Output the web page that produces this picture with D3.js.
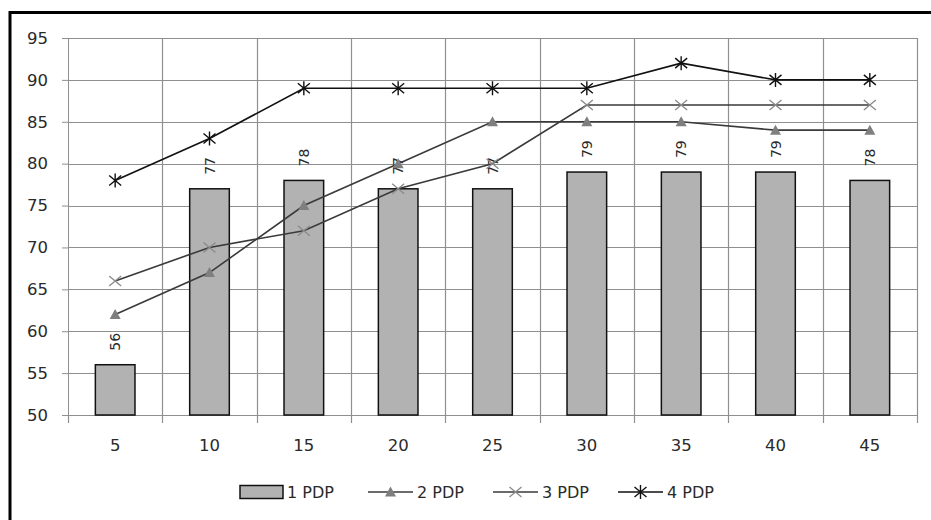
<!DOCTYPE html>
<html>
<head>
<meta charset="utf-8">
<script src="https://cdn.jsdelivr.net/npm/d3@7"></script>
<style>
  html, body { margin: 0; padding: 0; background: #fff; }
  svg { display: block; }
  text { font-family: "DejaVu Sans", Verdana, sans-serif; fill: #2a2a2a; }
</style>
</head>
<body>
<svg id="chart" width="931" height="520"></svg>
<script>
// Categories along the horizontal axis
const categories = ["5", "10", "15", "20", "25", "30", "35", "40", "45"];
// Bar series
const pdp1 = [56, 77, 78, 77, 77, 79, 79, 79, 78];
// Line series
const pdp2 = [62, 67, 75, 80, 85, 85, 85, 84, 84];
const pdp3 = [66, 70, 72, 77, 80, 87, 87, 87, 87];
const pdp4 = [78, 83, 89, 89, 89, 89, 92, 90, 90];
// Value axis ticks
const yTicks = [50, 55, 60, 65, 70, 75, 80, 85, 90, 95];

const svg = d3.select("#chart");
const plot = { left: 68, right: 917, top: 38, bottom: 415 };

const x = d3.scaleBand().domain(categories).range([plot.left, plot.right]).padding(0);
const y = d3.scaleLinear().domain([50, 95]).range([plot.bottom, plot.top]);
const gridColor = "#8f8f8f";

// Outer frame
svg.append("rect")
  .attr("x", 10).attr("y", 12.5).attr("width", 960).attr("height", 560)
  .attr("fill", "none").attr("stroke", "#000").attr("stroke-width", 3);

// Left axis
const yAxis = svg.append("g")
  .attr("transform", `translate(${plot.left},0)`)
  .call(d3.axisLeft(y).tickValues(yTicks).tickSize(6).tickPadding(14));
yAxis.select(".domain").attr("stroke", gridColor);
yAxis.selectAll(".tick line").attr("stroke", gridColor);
yAxis.selectAll(".tick text").attr("font-size", 16.5).attr("fill", "#2a2a2a")
  .attr("font-family", "DejaVu Sans, Verdana, sans-serif");

// Horizontal gridlines
svg.append("g").selectAll("line").data(yTicks.filter(d => d > 50)).join("line")
  .attr("x1", plot.left).attr("x2", plot.right)
  .attr("y1", d => Math.round(y(d)) + 0.5).attr("y2", d => Math.round(y(d)) + 0.5)
  .attr("stroke", gridColor).attr("stroke-width", 1.2);

// Vertical gridlines at category boundaries
const bounds = categories.map(c => x(c)).concat([plot.right]);
svg.append("g").selectAll("line").data(bounds.slice(1)).join("line")
  .attr("x1", d => Math.round(d) + 0.5).attr("x2", d => Math.round(d) + 0.5)
  .attr("y1", plot.top).attr("y2", plot.bottom)
  .attr("stroke", gridColor).attr("stroke-width", 1.2);

// Bottom axis with ticks between categories
const xg = svg.append("g").attr("transform", `translate(0,${plot.bottom})`);
xg.append("line").attr("x1", plot.left - 6).attr("x2", plot.right)
  .attr("y1", 0.5).attr("y2", 0.5).attr("stroke", gridColor).attr("stroke-width", 1.2);
xg.selectAll("line.tk").data(bounds).join("line").attr("class", "tk")
  .attr("x1", d => Math.round(d) + 0.5).attr("x2", d => Math.round(d) + 0.5)
  .attr("y1", 0).attr("y2", 8).attr("stroke", gridColor).attr("stroke-width", 1.2);
xg.selectAll("text").data(categories).join("text")
  .attr("x", d => x(d) + x.bandwidth() / 2).attr("y", 36)
  .attr("text-anchor", "middle").attr("font-size", 16.5).text(d => d);

// Bars
const barW = x.bandwidth() * 0.42;
svg.append("g").selectAll("rect").data(pdp1).join("rect")
  .attr("x", (d, i) => x(categories[i]) + (x.bandwidth() - barW) / 2)
  .attr("y", d => y(d))
  .attr("width", barW)
  .attr("height", d => y(50) - y(d))
  .attr("fill", "#b2b2b2").attr("stroke", "#111").attr("stroke-width", 1.5);

// Rotated bar value labels
svg.append("g").selectAll("text").data(pdp1).join("text")
  .attr("transform", (d, i) => `translate(${x(categories[i]) + x.bandwidth() / 2 + 5},${y(d) - 14}) rotate(-90)`)
  .attr("text-anchor", "start").attr("font-size", 14).text(d => d);

// Lines
const cx = i => x(categories[i]) + x.bandwidth() / 2;
const lineGen = d3.line().x((d, i) => cx(i)).y(d => y(d));
const series = [
  { name: "2 PDP", values: pdp2, line: "#3a3a3a", marker: "triangle", mcolor: "#7f7f7f" },
  { name: "3 PDP", values: pdp3, line: "#3a3a3a", marker: "cross", mcolor: "#8a8a8a" },
  { name: "4 PDP", values: pdp4, line: "#111", marker: "star", mcolor: "#111" }
];

function drawMarker(g, type, color, px, py) {
  if (type === "triangle") {
    g.append("path").attr("d", `M${px},${py - 5.5}L${px + 5.5},${py + 4.5}L${px - 5.5},${py + 4.5}Z`)
      .attr("fill", color);
  } else if (type === "cross") {
    g.append("path").attr("d", `M${px - 6},${py - 5}L${px + 6},${py + 5}M${px - 6},${py + 5}L${px + 6},${py - 5}`)
      .attr("stroke", color).attr("stroke-width", 1.3).attr("fill", "none");
  } else {
    g.append("path").attr("d",
      `M${px - 6},${py - 5}L${px + 6},${py + 5}M${px - 6},${py + 5}L${px + 6},${py - 5}M${px},${py - 7}L${px},${py + 7}`)
      .attr("stroke", color).attr("stroke-width", 1.4).attr("fill", "none");
  }
}

series.forEach(s => {
  svg.append("path").datum(s.values).attr("d", lineGen)
    .attr("fill", "none").attr("stroke", s.line).attr("stroke-width", 1.6);
  const mg = svg.append("g");
  s.values.forEach((v, i) => drawMarker(mg, s.marker, s.mcolor, cx(i), y(v)));
});

// Legend
const lg = svg.append("g").attr("transform", "translate(0,492)");
lg.append("rect").attr("x", 240).attr("y", -6.5).attr("width", 43).attr("height", 13)
  .attr("fill", "#b2b2b2").attr("stroke", "#111").attr("stroke-width", 1.5);
lg.append("text").attr("x", 287).attr("y", 6).attr("font-size", 16).text("1 PDP");
const legendX = [368, 493, 618];
series.forEach((s, i) => {
  const lx = legendX[i];
  lg.append("line").attr("x1", lx).attr("x2", lx + 45).attr("y1", 0).attr("y2", 0)
    .attr("stroke", s.line).attr("stroke-width", 1.6);
  drawMarker(lg, s.marker, s.mcolor, lx + 22.5, 0);
  lg.append("text").attr("x", lx + 49).attr("y", 6).attr("font-size", 16).text(s.name);
});
</script>
</body>
</html>
